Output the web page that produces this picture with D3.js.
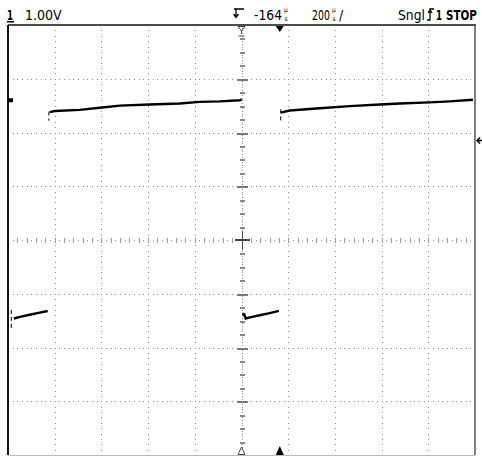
<!DOCTYPE html>
<html><head><meta charset="utf-8">
<script src="https://cdn.jsdelivr.net/npm/d3@7"></script>
<style>body{margin:0;background:#fff}svg{display:block}</style>
</head><body><svg id="c" width="482" height="458"></svg>
<script>
// ---- settings ----
const timePerDiv = 200;      // µs / div
const delay = -164;          // µs, screen centre relative to trigger
const voltsPerDiv = 1.0;     // V / div
const offset = -2.6;         // V at screen centre
const hDivs = 10, vDivs = 8;

// ---- trace data (time in µs, voltage in V) ----
const lowA_t  = [-1139, -1113, -1071, -1028, -994];
const lowA_v  = [-4.06, -4.03, -3.99, -3.95, -3.92];
const highA_t = [-985, -964, -857, -771, -685, -557, -428, -343, -257, -171, -163];
const highA_v = [-0.22, -0.20, -0.18, -0.14, -0.10, -0.08, -0.06, -0.03, -0.02, 0.00, 0.02];
const lowB_t  = [-154, -146, -128, -86, -43, -4];
const lowB_v  = [-3.96, -4.06, -4.04, -4.00, -3.96, -3.92];
const highB_t = [4, 43, 171, 300, 428, 514, 642, 728, 827];
const highB_v = [-0.23, -0.19, -0.15, -0.11, -0.08, -0.06, -0.04, -0.02, 0.01];
// short glitches at the segment starts: [t, v1, v2]
const glitches = [[-1150, -3.90, -4.28], [-989, -0.21, -0.38], [4, -0.17, -0.41], [-158, -3.95, -4.02]];

// ---- header labels ----
const chLabel = "1";
const scaleLabel = "1.00V";
const delayLabel = "-164";
const timeLabel = "200";
const modeLabel = "Sngl";
const trigSrc = "1";
const runLabel = "STOP";

const svg = d3.select("#c");
const L = 8, R = 475, T = 25, B = 455;
const t0 = delay - hDivs/2*timePerDiv, t1 = delay + hDivs/2*timePerDiv;
const v0 = offset - vDivs/2*voltsPerDiv, v1 = offset + vDivs/2*voltsPerDiv;
const x = d3.scaleLinear().domain([t0, t1]).range([L, R]);
const y = d3.scaleLinear().domain([v0, v1]).range([B, T]);
const dx = (R-L)/hDivs, dy = (B-T)/vDivs;
const cx = x(delay), cy = y(offset);

svg.append("rect").attr("width",482).attr("height",458).attr("fill","#fff");
const g = svg.append("g");
const grey = "#8a8a8a";

// vertical grid lines
for (let k = -4; k <= 4; k++) {
  if (k === 0) continue;
  const xx = Math.round(x(delay + k*timePerDiv));
  for (let j = 1; j < vDivs*10; j++) {
    const yy = Math.round(T + j*dy/10);
    g.append("rect").attr("x",xx).attr("y",yy).attr("width",1).attr("height",1).attr("fill",grey);
  }
}
// horizontal grid lines
for (let k = -3; k <= 3; k++) {
  if (k === 0) continue;
  const yy = Math.round(y(offset + k*voltsPerDiv));
  for (let j = 1; j < hDivs*10; j++) {
    const xx = Math.round(L + j*dx/10);
    g.append("rect").attr("x",xx).attr("y",yy).attr("width",1).attr("height",1).attr("fill",grey);
  }
  g.append("rect").attr("x",Math.round(cx)-5).attr("y",yy).attr("width",11).attr("height",2).attr("fill","#777");
}
// centre horizontal axis
const cyr = Math.round(cy);
for (let j = 1; j < hDivs*10; j++) {
  const xx = Math.round(L + j*dx/10);
  if (j % 2 === 0) g.append("rect").attr("x",xx).attr("y",cyr-2).attr("width",1).attr("height",5).attr("fill","#999");
  else g.append("rect").attr("x",xx).attr("y",cyr).attr("width",1).attr("height",1).attr("fill",grey);
}
// centre vertical axis
const cxr = Math.round(cx);
for (let j = 1; j < vDivs*20; j++) {
  const yy = Math.round(T + j*dy/20);
  if (j % 5 === 0 && j % 20 !== 0) g.append("rect").attr("x",cxr-2).attr("y",yy).attr("width",5).attr("height",2).attr("fill","#888");
  else if (j % 20 !== 0) g.append("rect").attr("x",cxr).attr("y",yy).attr("width",1).attr("height",1).attr("fill",grey);
}
// centre cross
g.append("rect").attr("x",cxr-7).attr("y",cyr-1).attr("width",15).attr("height",2).attr("fill","#444");
g.append("rect").attr("x",cxr).attr("y",cyr-9).attr("width",1).attr("height",19).attr("fill","#444");

// frame
svg.append("line").attr("x1",L).attr("x2",R+1).attr("y1",T).attr("y2",T).attr("stroke","#111").attr("stroke-width",1.5);
svg.append("line").attr("x1",L).attr("x2",L).attr("y1",T).attr("y2",B).attr("stroke","#111").attr("stroke-width",2);
svg.append("line").attr("x1",R).attr("x2",R).attr("y1",T).attr("y2",B).attr("stroke","#555").attr("stroke-width",1.5);
svg.append("line").attr("x1",L).attr("x2",R).attr("y1",B+0.5).attr("y2",B+0.5).attr("stroke","#bbb").attr("stroke-width",1);

// trace
const line = d3.line().x(d => x(d[0])).y(d => y(d[1]));
const segs = [[lowA_t, lowA_v], [highA_t, highA_v], [lowB_t, lowB_v], [highB_t, highB_v]];
segs.forEach(([ts, vs]) => {
  svg.append("path").datum(ts.map((t,i)=>[t, vs[i]])).attr("d", line)
    .attr("fill","none").attr("stroke","#000").attr("stroke-width",2.4);
});
glitches.forEach(([t, a, b]) => {
  svg.append("line").attr("x1",x(t)).attr("x2",x(t)).attr("y1",y(a)).attr("y2",y(b))
    .attr("stroke","#000").attr("stroke-width",1).attr("stroke-dasharray","4,3");
});

// markers
svg.append("rect").attr("x",8).attr("y",y(0)-2).attr("width",5).attr("height",4).attr("fill","#000");
const ta = x(0);
svg.append("path").attr("d",`M${ta-4},${T+1}L${ta+4},${T+1}L${ta},${T+7}Z`).attr("fill","#000");
svg.append("path").attr("d",`M${ta-4},${B}L${ta+4},${B}L${ta},${B-9}Z`).attr("fill","#000");
svg.append("path").attr("d",`M${cx-3.5},${T+1.5}L${cx+3.5},${T+1.5}L${cx},${T+6}ZM${cx},${T+6}L${cx},${T+9}M${cx-3},${T+11}L${cx+3},${T+11}`)
  .attr("fill","none").attr("stroke","#444").attr("stroke-width",1);
svg.append("path").attr("d",`M${cx-3.5},${B-0.5}L${cx+3.5},${B-0.5}L${cx},${B-8}Z`)
  .attr("fill","#fff").attr("stroke","#444").attr("stroke-width",1);
// trigger level arrow at right
const trigV = y(offset + 1.85);
svg.append("path").attr("d",`M${R+2},${trigV}L${R+7},${trigV}M${R+5},${trigV-3}L${R+2},${trigV}L${R+5},${trigV+3}`)
  .attr("fill","none").attr("stroke","#000").attr("stroke-width",1.5);

// header text (horizontally scaled to the reference widths)
const font = "'Liberation Sans Narrow', 'DejaVu Sans Condensed', sans-serif";
const hdr = svg.append("g").attr("font-family", font).attr("font-size", 14).attr("fill","#000");
const txt = (xx, yy, s, len, opts = {}) => {
  const t = hdr.append("text").attr("x",0).attr("y",0).text(s);
  if (opts.bold) t.attr("font-weight","bold");
  if (opts.size) t.attr("font-size", opts.size);
  const w = t.node().getComputedTextLength();
  const k = len ? Math.min(1, len / w) : 1;
  t.attr("transform", `translate(${xx},${yy}) scale(${k},1)`);
  return t;
};
txt(7, 20, chLabel, 6, {bold:true});
svg.append("rect").attr("x",7).attr("y",21).attr("width",7).attr("height",1.5).attr("fill","#000");
txt(25, 20, scaleLabel, 37);
// trigger delay symbol
svg.append("path").attr("d",`M234,9L244,9M236,9L236,17M233.5,14L236,17.5L238.5,14`).attr("fill","none").attr("stroke","#000").attr("stroke-width",1.3);
txt(254, 20, delayLabel, 28);
const us = (xx) => {
  txt(xx, 12, "µ", 5, {size:6.5});
  txt(xx + 0.5, 21, "s", 5, {size:6.5});
};
us(284);
txt(312, 20, timeLabel, 18);
us(332);
txt(339, 20, "/", 6);
txt(398, 20, modeLabel, 27);
// edge symbol
svg.append("path").attr("d",`M427,20L430,20L430,9L434,9M428,13L430,10L432,13`).attr("fill","none").attr("stroke","#000").attr("stroke-width",1.3);
txt(436, 20, trigSrc, 6, {bold:true});
txt(446, 20, runLabel, 31, {bold:true});
</script></body></html>
